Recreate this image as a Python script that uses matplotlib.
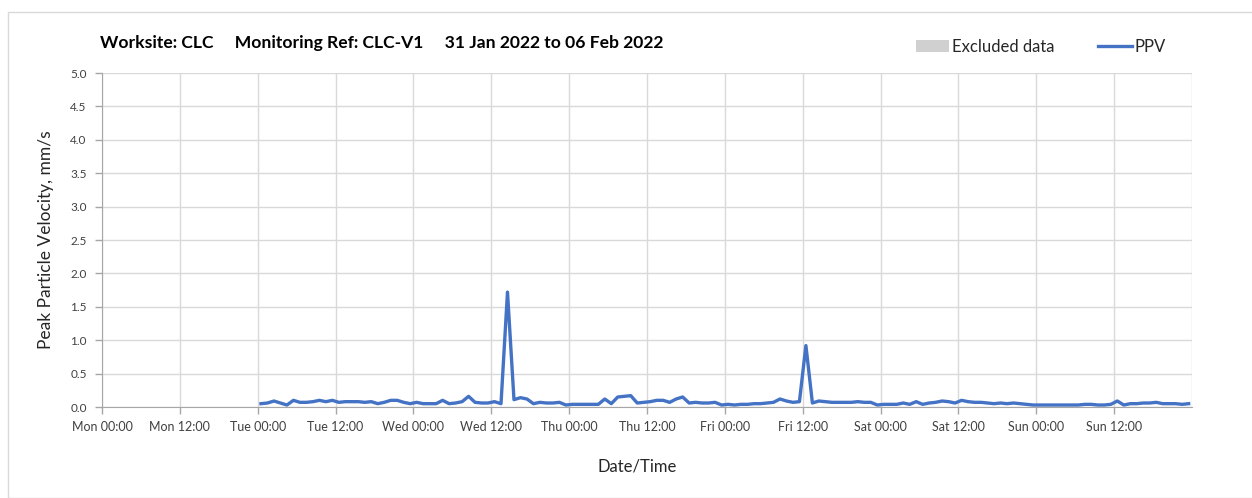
import numpy as np
import matplotlib
matplotlib.use("Agg")
import matplotlib.pyplot as plt
from matplotlib.patches import Rectangle
from datetime import datetime, timedelta

plt.rcParams['font.family'] = ['Lato', 'DejaVu Sans']

# ---------------- data ----------------
title_text = "Worksite: CLC     Monitoring Ref: CLC-V1     31 Jan 2022 to 06 Feb 2022"
start_time = datetime(2022, 2, 1, 0, 30)   # hourly readings from Tue
ppv = [
    # Tue
    0.05, 0.06, 0.09, 0.06, 0.03, 0.10, 0.07, 0.07, 0.08, 0.10, 0.08, 0.10,
    0.07, 0.08, 0.08, 0.08, 0.07, 0.08, 0.05, 0.07, 0.10, 0.10, 0.07, 0.05,
    # Wed
    0.07, 0.05, 0.05, 0.05, 0.10, 0.05, 0.06, 0.08, 0.16, 0.07, 0.06, 0.06,
    0.08, 0.05, 1.72, 0.11, 0.14, 0.12, 0.05, 0.07, 0.06, 0.06, 0.07, 0.03,
    # Thu
    0.04, 0.04, 0.04, 0.04, 0.04, 0.12, 0.05, 0.15, 0.16, 0.17, 0.06, 0.07,
    0.08, 0.10, 0.10, 0.07, 0.12, 0.15, 0.06, 0.07, 0.06, 0.06, 0.07, 0.03,
    # Fri
    0.04, 0.03, 0.04, 0.04, 0.05, 0.05, 0.06, 0.07, 0.12, 0.09, 0.07, 0.08,
    0.92, 0.06, 0.09, 0.08, 0.07, 0.07, 0.07, 0.07, 0.08, 0.07, 0.07, 0.03,
    # Sat
    0.04, 0.04, 0.04, 0.06, 0.04, 0.08, 0.04, 0.06, 0.07, 0.09, 0.08, 0.06,
    0.10, 0.08, 0.07, 0.07, 0.06, 0.05, 0.06, 0.05, 0.06, 0.05, 0.04, 0.03,
    # Sun
    0.03, 0.03, 0.03, 0.03, 0.03, 0.03, 0.03, 0.04, 0.04, 0.03, 0.03, 0.04,
    0.09, 0.03, 0.05, 0.05, 0.06, 0.06, 0.07, 0.05, 0.05, 0.05, 0.04, 0.05,
]
times = [start_time + timedelta(hours=i) for i in range(len(ppv))]

x_start = datetime(2022, 1, 31)
x_end = datetime(2022, 2, 7)
tick_labels = ["Mon 00:00", "Mon 12:00", "Tue 00:00", "Tue 12:00", "Wed 00:00",
               "Wed 12:00", "Thu 00:00", "Thu 12:00", "Fri 00:00", "Fri 12:00",
               "Sat 00:00", "Sat 12:00", "Sun 00:00", "Sun 12:00"]
tick_times = [x_start + timedelta(hours=12 * i) for i in range(len(tick_labels))]

# ---------------- plot ----------------
fig = plt.figure(figsize=(12.52, 4.98), dpi=100)
ax = fig.add_axes([0.0815, 0.1827, 0.8705, 0.6707])

fig.patches.append(Rectangle((8 / 1252, 0), 1.0, 486 / 498, transform=fig.transFigure,
                             fill=False, edgecolor="#d9d9d9", linewidth=1))

line_ppv, = ax.plot(times, ppv, color="#4472c4", linewidth=2.4, label="PPV")

ax.set_xlim(x_start, x_end)
ax.set_ylim(0, 5.0)
ax.set_yticks(np.arange(0, 5.01, 0.5))
ax.set_yticklabels([f"{v:.1f}" for v in np.arange(0, 5.01, 0.5)])
ax.set_xticks(tick_times)
ax.set_xticklabels(tick_labels)

ax.grid(True, color="#d9d9d9", linewidth=1)
ax.set_axisbelow(True)
for side in ["top", "right"]:
    ax.spines[side].set_visible(False)
for side in ["left", "bottom"]:
    ax.spines[side].set_color("#a6a6a6")
ax.axvline(x_end, color="#d9d9d9", linewidth=1, zorder=0)
ax.tick_params(axis="both", colors="#a6a6a6", length=5, width=1)
ax.tick_params(axis="y", labelsize=8.5, labelcolor="#404040", pad=6)
ax.tick_params(axis="x", labelsize=9, labelcolor="#404040", pad=5)

ax.set_ylabel("Peak Particle Velocity, mm/s", fontsize=12.5, color="#262626", labelpad=12)
ax.set_xlabel("Date/Time", fontsize=12, color="#262626")
ax.xaxis.set_label_coords(0.491, -0.155)

fig.text(100 / 1252, 1 - 43 / 498, title_text, fontsize=12.6, fontweight="bold",
         va="center", ha="left", color="#000000")

excluded = Rectangle((0, 0), 1, 1, facecolor="#d0d0d0", edgecolor="none")
fig.legend([excluded, line_ppv], ["Excluded data", "PPV"], loc="center",
           bbox_to_anchor=(1041 / 1252, 1 - 47 / 498), ncol=2, frameon=False,
           fontsize=12, handlelength=2.0, handletextpad=0.2, columnspacing=2.6,
           labelcolor="#262626")

fig.savefig("out.png", dpi=100)
